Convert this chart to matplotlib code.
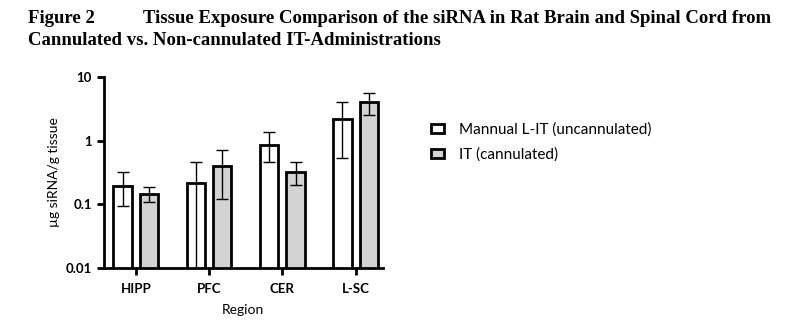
import numpy as np
from matplotlib import pyplot as plt
from matplotlib.patches import Patch

regions = ["HIPP", "PFC", "CER", "L-SC"]
series_names = ["Mannual L-IT (uncannulated)", "IT (cannulated)"]

# bar heights (ug siRNA/g tissue)
manual_mean = [0.196, 0.214, 0.87, 2.22]
manual_low = [0.095, 0.005, 0.457, 0.53]
manual_high = [0.32, 0.457, 1.37, 4.0]

it_mean = [0.144, 0.404, 0.326, 4.0]
it_low = [0.107, 0.121, 0.199, 2.53]
it_high = [0.187, 0.71, 0.457, 5.53]

plt.rcParams['font.family'] = ['Lato', 'DejaVu Sans']

fig = plt.figure(figsize=(7.86, 3.35), dpi=100)
ax = fig.add_axes([0.132, 0.2, 0.355, 0.57])

x = np.arange(len(regions))
w = 0.25
off = 0.18

def draw(xs, mean, low, high, color):
    mean = np.array(mean)
    err = [mean - np.array(low), np.array(high) - mean]
    ax.bar(xs, mean, width=w, color=color, edgecolor='black', linewidth=2, zorder=2)
    ax.errorbar(xs, mean, yerr=err, fmt='none', ecolor='black', elinewidth=1,
                capsize=4, capthick=1, zorder=3)

draw(x - off, manual_mean, manual_low, manual_high, 'white')
draw(x + off, it_mean, it_low, it_high, '#d3d3d3')

ax.set_yscale('log')
ax.set_ylim(0.01, 10)
ax.set_xlim(-0.437, 3.37)
ax.set_yticks([0.01, 0.1, 1, 10])
ax.set_yticklabels(["0.01", "0.1", "1", "10"])
ax.minorticks_off()
ax.set_xticks(x)
ax.set_xticklabels(regions, fontweight='bold')
for lab in ax.get_yticklabels():
    lab.set_fontweight('bold')
ax.tick_params(axis='both', labelsize=9.5, width=2, length=5, direction='out')
ax.tick_params(axis='x', pad=6)

for s in ['top', 'right']:
    ax.spines[s].set_visible(False)
for s in ['left', 'bottom']:
    ax.spines[s].set_linewidth(2)

ax.set_ylabel("\u00b5g siRNA/g tissue", fontsize=10)
ax.set_xlabel("Region", fontsize=10, labelpad=6)

handles = [Patch(facecolor='white', edgecolor='black', linewidth=2),
           Patch(facecolor='#d3d3d3', edgecolor='black', linewidth=2)]
fig.legend(handles, series_names, loc='upper left', bbox_to_anchor=(0.531, 0.675),
           frameon=False, fontsize=11, handlelength=0.85, handleheight=0.6,
           labelspacing=0.7, handletextpad=1.0)

fig.text(0.035, 0.93, "Figure 2", fontsize=13.5, fontweight='bold',
         family='Liberation Serif')
fig.text(0.182, 0.93, "Tissue Exposure Comparison of the siRNA in Rat Brain and Spinal Cord from",
         fontsize=13.5, fontweight='bold', family='Liberation Serif')
fig.text(0.035, 0.865, "Cannulated vs. Non-cannulated IT-Administrations", fontsize=13.5,
         fontweight='bold', family='Liberation Serif')

plt.savefig('out.png', dpi=100)
